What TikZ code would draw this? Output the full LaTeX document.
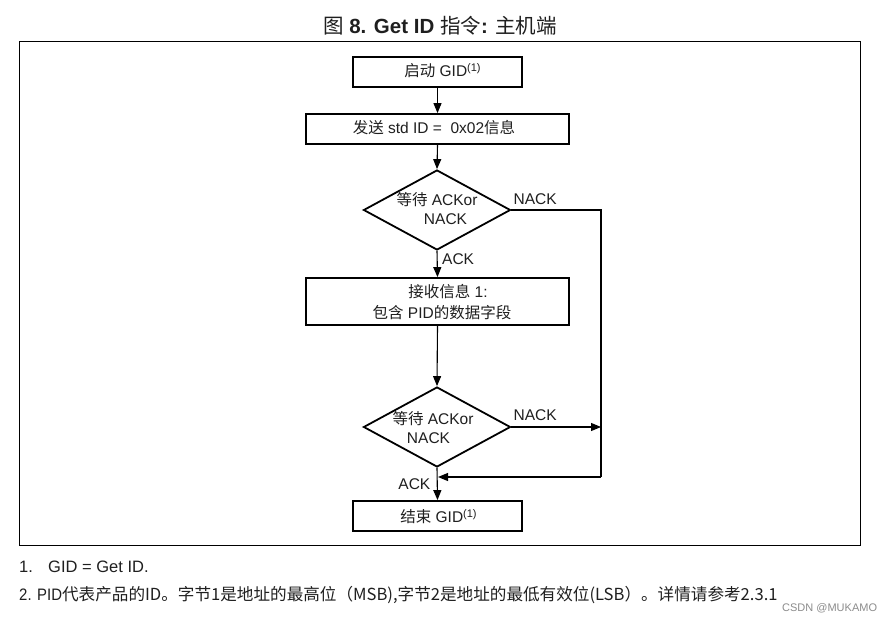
\documentclass[tikz,border=0pt]{standalone}
\usepackage{fontspec}
\setmainfont{Liberation Sans}
\newfontfamily\cjk{Noto Sans CJK SC}
\newfontfamily\narrowsans[FakeStretch=0.9]{Liberation Sans}
\usetikzlibrary{shapes.geometric,arrows.meta}
\newcommand\zh[1]{{\cjk #1}}
\newcommand\fnm{\raisebox{5pt}{\fontsize{11}{11}\selectfont(1)}}
\begin{document}
\begin{tikzpicture}[x=1pt,y=-1pt,
  box/.style={draw, line width=1.8pt, inner sep=0pt},
  dia/.style={draw, diamond, line width=1.8pt, inner sep=0pt, minimum width=147pt, minimum height=80pt},
  txt/.style={inner sep=0pt, anchor=base, font=\fontsize{15.5}{18}\selectfont, text=black!88},
  conn/.style={line width=1.1pt},
  arr/.style={conn, -{Triangle[length=10pt,width=8pt]}}
]
\useasboundingbox (0,0) rectangle (891,620);
\fill[white] (0,0) rectangle (891,620);
% title
\node[txt, font=\fontsize{20.5}{24}\selectfont] (title) at (440,33.5) {\zh{图} \textbf{8. Get ID} \zh{指令}\textbf{:} \zh{主机端}};
% frame
\node[draw, line width=1pt, minimum width=841pt, minimum height=504pt, anchor=north west, inner sep=0pt] (frame) at (18.5,41) {};
% boxes
\node[box, minimum width=169pt, minimum height=30pt] (b1) at (437.5,72) {};
\node[txt] (t1) at (442.5,77) {\zh{启动} GID\fnm};
\node[box, minimum width=263pt, minimum height=30pt] (b2) at (437.5,129) {};
\node[txt] (t2) at (434,133.5) {\zh{发送} std ID =\ \ 0x02\zh{信息}};
\node[dia] (d1) at (437,210) {};
\node[txt] (t3a) at (437,206) {\zh{等待} ACKor};
\node[txt] (t3b) at (445.5,225) {NACK};
\node[txt, anchor=base west] (l1) at (513.5,205) {NACK};
\node[txt, anchor=base west] (l2) at (442,265) {ACK};
\node[box, minimum width=263pt, minimum height=47pt] (b3) at (437.5,301.5) {};
\node[txt] (t4a) at (448,297.5) {\zh{接收信息} 1:};
\node[txt] (t4b) at (442,318) {\zh{包含} PID\zh{的数据字段}};
\node[dia] (d2) at (437,427) {};
\node[txt] (t5a) at (433,424.5) {\zh{等待} ACKor};
\node[txt] (t5b) at (428.5,443) {NACK};
\node[txt, anchor=base west] (l3) at (513.5,420) {NACK};
\node[txt, anchor=base east] (l4) at (430.5,489) {ACK};
\node[box, minimum width=169pt, minimum height=30pt] (b4) at (437.5,516) {};
\node[txt] (t6) at (438.5,522) {\zh{结束} GID\fnm};
% connectors
\coordinate (r1) at (601,210);
\coordinate (r2) at (601,477);
\coordinate (r3) at (601,427);
\coordinate (j) at (438,477);
\draw[arr] (b1.south) -- (b2.north);
\draw[arr] (b2.south) -- (d1.north);
\draw[arr] (d1.south) -- (b3.north);
\draw[arr] (b3.south) -- (d2.north);
\draw[arr] (d2.south) -- (b4.north);
\draw[conn] (d1.east) -- (r1) -- (r2);
\draw[arr] (r2) -- (j);
\draw[arr] (d2.east) -- (r3);
% footnotes
\node[txt, anchor=base west, font=\fontsize{16.5}{18}\selectfont] (f1a) at (19,572) {1.};
\node[txt, anchor=base west, font=\fontsize{16.5}{18}\selectfont] (f1b) at (48,572) {GID = Get ID.};
\node[txt, anchor=base west, font=\fontsize{16.6}{18}\selectfont] (f2) at (19,600) {{\narrowsans 2. PID}\zh{代表产品的ID。字节1是地址的最高位（MSB),字节2是地址的最低有效位(LSB）。详情请参考2.3.1}};
\node[inner sep=0pt, anchor=base west, font=\fontsize{11}{13}\selectfont, text=black!45] (wm) at (782,611) {CSDN @MUKAMO};
\end{tikzpicture}
\end{document}
